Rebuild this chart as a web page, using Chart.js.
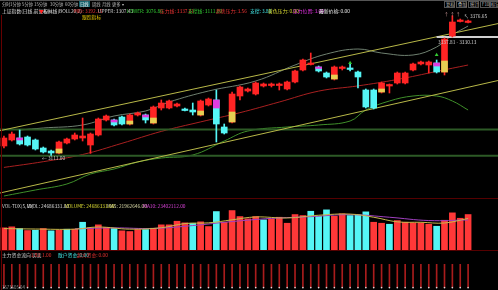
<!DOCTYPE html>
<html lang="zh-CN">
<head>
<meta charset="UTF-8">
<title>上证指数 日线</title>
<style>
  html, body { margin: 0; padding: 0; background: #000; }
  body { width: 498px; height: 290px; position: relative; overflow: hidden;
         font-family: "Noto Sans CJK SC", "Noto Sans", sans-serif; }
  canvas { position: absolute; left: 0; }
  .t { position: absolute; font-size: 16px; line-height: 16px; white-space: nowrap; color: #bbb;
       transform: scale(0.3); transform-origin: 0 0; }
  .s { transform: scale(0.27); }
  .hl { position: absolute; }
  .btn { position: absolute; top: 1px; width: 9px; height: 5px; border: 1px solid #555; }
</style>
</head>
<body>
<canvas id="mainCanvas" width="498" height="183" style="top:15px"></canvas>
<canvas id="volCanvas" width="498" height="50" style="top:200px"></canvas>
<canvas id="flowCanvas" width="498" height="26" style="top:264px"></canvas>

<!-- frame lines -->
<div class="hl" style="left:0;top:0;width:498px;height:1px;background:#555"></div>
<div class="hl" style="left:1px;top:15px;width:1px;height:275px;background:#600"></div>
<div class="hl" style="left:0;top:198px;width:498px;height:1px;background:#500"></div>
<div class="hl" style="left:0;top:250px;width:498px;height:1px;background:#500"></div>

<!-- period tabs -->
<div class="t s" style="left:2px;top:2px">分时</div>
<div class="t s" style="left:10px;top:2px">1分钟</div>
<div class="t s" style="left:22px;top:2px">5分钟</div>
<div class="t s" style="left:34px;top:2px">15分钟</div>
<div class="t s" style="left:50px;top:2px">30分钟</div>
<div class="t s" style="left:65px;top:2px">60分钟</div>
<div class="hl" style="left:79px;top:1px;width:11px;height:6px;background:#15606a"></div>
<div class="t s" style="left:80px;top:2px;color:#fff">日线</div>
<div class="t s" style="left:92px;top:2px">周线</div>
<div class="t s" style="left:102px;top:2px">月线</div>
<div class="t s" style="left:112px;top:2px">更多 ▾</div>

<div class="btn" style="left:444px"></div>
<div class="btn" style="left:456px"></div>
<div class="btn" style="left:468px"></div>
<div class="btn" style="left:480px"></div>
<div class="btn" style="left:489px"></div>
<div class="t s" style="left:446px;top:2px">复权</div>
<div class="t s" style="left:458px;top:2px">叠加</div>
<div class="t s" style="left:470px;top:2px">统计</div>
<div class="t s" style="left:482px;top:2px">F10</div>
<div class="t s" style="left:491px;top:2px">标记</div>

<!-- indicator legend -->
<div class="t" style="left:2px;top:8px;color:#ddd">上证指数(日线,前复权)</div>
<div class="t" style="left:39px;top:8px;color:#f22">▼</div>
<div class="t" style="left:43px;top:8px;color:#ddd">布林线(BOLL20,2)</div>
<div class="t" style="left:74px;top:8px;color:#e33">MID: 3192.15</div>
<div class="t" style="left:98px;top:8px;color:#ccc">UPPER: 3307.43</div>
<div class="t" style="left:127px;top:8px;color:#3c3">LOWER: 3076.86</div>
<div class="t" style="left:160px;top:8px;color:#e33">压力线: 3337.81</div>
<div class="t" style="left:188px;top:8px;color:#3c3">支撑线: 3111.00</div>
<div class="t" style="left:216px;top:8px;color:#e33">趋势压力: 3.56</div>
<div class="t" style="left:250px;top:8px;color:#4ee">支撑: 3.80</div>
<div class="t" style="left:268px;top:8px;color:#dd3">黄色压力: 0.00</div>
<div class="t" style="left:293px;top:8px;color:#e3e">压力位置: 3.00</div>
<div class="t" style="left:319px;top:8px;color:#eee">最新价格: 0.00</div>
<div class="t" style="left:82px;top:14px;color:#e8c800">跟踪指标</div>

<!-- price notes -->
<div class="t" style="left:444px;top:11px;color:#c99">↑ ↑ ↑</div>
<div class="t" style="left:464px;top:13px;color:#ccc">↖ 3376.65</div>
<div class="t" style="left:438px;top:39px;color:#ccc">3337.81 - 3330.13</div>
<div class="t" style="left:42px;top:155px;color:#ccc">← 3111.00</div>

<!-- volume legend -->
<div class="t" style="left:2px;top:203px;color:#ccc">VOL-TDX(5,10)</div>
<div class="t" style="left:27px;top:203px;color:#ddd">VVOL: 24686331.00</div>
<div class="t" style="left:65px;top:203px;color:#dd3">VOLUME: 24686331.00</div>
<div class="t" style="left:107px;top:203px;color:#dda">MA5: 21962646.00</div>
<div class="t" style="left:143px;top:203px;color:#d4d">MA10: 23402112.00</div>

<!-- money flow legend -->
<div class="t" style="left:2px;top:252px;color:#ccc">主力资金流向 买卖</div>
<div class="t" style="left:29px;top:252px;color:#e33">-1.93</div>
<div class="t" style="left:42px;top:252px;color:#e33">1.00</div>
<div class="t" style="left:58px;top:252px;color:#4ee">散户资金: 0.00</div>
<div class="t" style="left:77px;top:252px;color:#e33">超大资金: 0.00</div>
<div class="t s" style="left:2px;top:285px;color:#999">1571505.04</div>

<script src="https://cdn.jsdelivr.net/npm/chart.js"></script>
<script>
// daily candles, slot 0..59
const opens = [3129.1, 3140.5, 3144.3, 3146.2, 3140.5, 3125.3, 3119.6, 3115.8, 3134.8, 3142.4,
               3144.3, 3131.0, 3150.0, 3178.5, 3178.5, 3184.2, 3170.9, 3188.0, 3188.0, 3172.8,
               3201.3, 3201.3, 3205.1, 3199.4, 3197.5, 3188.0, 3207.0, 3216.5, 3165.2, 3174.7,
               3224.1, 3233.6, 3227.9, 3243.1, 3244.0, 3244.0, 3237.4, 3250.7, 3273.5, 3284.0,
               3279.2, 3267.8, 3256.4, 3276.4, 3277.3, 3269.7, 3235.5, 3235.5, 3231.7, 3243.1,
               3248.8, 3248.8, 3273.5, 3285.0, 3283.0, 3286.8, 3269.7, 3338.1, 3365.6, 3363.8];
const highs = [3148.1, 3155.7, 3159.5, 3148.1, 3142.4, 3127.2, 3121.5, 3138.6, 3144.3, 3153.8,
               3182.3, 3153.8, 3182.3, 3188.0, 3180.4, 3186.1, 3189.9, 3193.7, 3189.9, 3205.1,
               3216.5, 3216.5, 3210.8, 3201.3, 3210.8, 3216.5, 3220.3, 3235.5, 3170.9, 3231.7,
               3243.1, 3239.3, 3250.7, 3248.8, 3248.8, 3248.8, 3252.6, 3273.5, 3294.4, 3305.8,
               3281.1, 3269.7, 3281.1, 3281.1, 3284.9, 3271.6, 3237.4, 3237.4, 3250.7, 3246.9,
               3269.7, 3269.7, 3286.8, 3290.6, 3290.6, 3292.5, 3334.3, 3376.65, 3370.4, 3368.5];
const lows = [3125.3, 3138.6, 3131.0, 3129.1, 3121.5, 3115.8, 3111.0, 3113.9, 3132.9, 3140.5,
              3138.6, 3115.0, 3148.1, 3176.6, 3167.1, 3169.0, 3169.0, 3186.1, 3172.8, 3170.9,
              3197.5, 3199.4, 3203.2, 3195.6, 3188.0, 3186.1, 3205.1, 3136.7, 3151.9, 3172.8,
              3216.5, 3231.7, 3226.0, 3241.2, 3241.2, 3235.5, 3235.5, 3248.8, 3271.6, 3283.0,
              3269.7, 3258.3, 3254.5, 3273.5, 3271.6, 3239.3, 3201.3, 3199.4, 3229.8, 3229.8,
              3246.9, 3246.9, 3271.6, 3283.0, 3267.8, 3267.8, 3264.0, 3336.2, 3364.7, 3362.8];
const closes = [3144.3, 3151.9, 3132.9, 3131.0, 3123.4, 3117.7, 3115.8, 3136.7, 3142.4, 3150.0,
                3148.1, 3151.9, 3180.4, 3186.1, 3169.0, 3170.9, 3188.0, 3191.8, 3178.5, 3203.2,
                3210.8, 3214.6, 3208.9, 3196.5, 3193.7, 3214.6, 3218.4, 3170.9, 3153.8, 3227.9,
                3241.2, 3237.4, 3248.8, 3246.9, 3246.9, 3246.9, 3250.7, 3271.6, 3292.5, 3286.8,
                3271.6, 3260.2, 3279.2, 3279.2, 3274.5, 3260.2, 3203.2, 3201.3, 3248.8, 3245.0,
                3267.8, 3267.8, 3284.9, 3288.7, 3288.7, 3269.7, 3332.4, 3364.7, 3368.5, 3366.6];

// coloured part of some bodies (yellow foot on up bars, magenta head on down bars)
const accentIdx = [2, 7, 14, 16, 18, 19, 25, 27, 29, 40, 42, 48, 55, 56];
const accentLo = [3140.5, 3115.8, 3174.7, 3170.9, 3184.2, 3172.8, 3188.0, 3201.3, 3174.7, 3276.4, 3256.4, 3231.7, 3281.1, 3269.7];
const accentHi = [3144.3, 3123.4, 3178.5, 3176.6, 3188.0, 3182.3, 3195.6, 3216.5, 3193.7, 3279.2, 3264.0, 3237.4, 3286.8, 3290.6];

// BOLL lines read at some slots
const midX = [0, 5, 10, 15, 20, 25, 30, 35, 40, 45, 50, 55, 59];
const midY = [3088.4, 3099.3, 3112.9, 3134.2, 3156.8, 3174.9, 3192.4, 3212.7, 3233.4, 3243.3, 3255.5, 3270.8, 3283.0];
const upX = [2, 5, 10, 14, 18, 21, 26, 32, 37, 41, 45, 48, 52, 55, 57, 59];
const upY = [3159.5, 3163.3, 3169.0, 3186.1, 3195.6, 3212.7, 3233.6, 3252.6, 3283.0, 3303.9, 3313.4, 3305.8, 3302.0, 3317.2, 3340.0, 3357.1];
const lowX = [0, 4, 8, 11, 14, 17, 20, 24, 28, 31, 36, 40, 44, 46, 49, 52, 55, 57, 59];
const lowY = [3034.1, 3045.5, 3056.9, 3075.9, 3085.4, 3098.7, 3106.3, 3112.0, 3138.6, 3157.6, 3165.2, 3169.0, 3176.6, 3197.5, 3214.6, 3224.1, 3224.1, 3214.6, 3197.5];

// channel and level lines
const edgeX = [-0.5, 62.8];
const chanTopY = [3158.2, 3361.7];
const chanBotY = [3039.8, 3253.5];
const resistY = [3160.5, 3160.5];
const supportY = [3110.5, 3110.5];
const markX = [55.0, 62.8];
const markY = [3336.2, 3336.2];
const signalX = [44, 55];
const signalY = [3286.8, 3302.0];

// volume
const volumes = [15430000, 16120000, 14940000, 13550000, 13760000, 14940000, 13340000, 13760000, 14460000, 14460000,
                 19320000, 15430000, 17510000, 15640000, 14940000, 13340000, 12860000, 14250000, 14250000, 15150000,
                 17510000, 17510000, 20020000, 18900000, 18630000, 19600000, 16330000, 26760000, 19320000, 27450000,
                 23280000, 21680000, 23280000, 20990000, 21680000, 22800000, 18630000, 24670000, 23980000, 26970000,
                 23490000, 27940000, 23490000, 25160000, 23980000, 24460000, 26550000, 19320000, 18630000, 17930000,
                 20500000, 19320000, 18900000, 18900000, 17930000, 16540000, 20710000, 25850000, 22100000, 24686331];
const volUp = [1, 1, 0, 1, 0, 1, 0, 1, 0, 1,
               0, 1, 1, 1, 0, 1, 1, 1, 0, 1,
               1, 1, 1, 1, 0, 1, 1, 0, 1, 1,
               1, 1, 1, 0, 1, 1, 1, 1, 1, 0,
               0, 0, 1, 1, 0, 0, 0, 1, 1, 0,
               1, 1, 1, 1, 1, 0, 1, 1, 1, 1];
const ma5X = [0, 4, 9, 12, 16, 20, 23, 26, 29, 32, 36, 40, 44, 47, 50, 53, 56, 59];
const ma5Y = [14900000, 14600000, 14500000, 16000000, 14500000, 15500000, 18400000, 18900000, 21000000, 23000000,
              22300000, 24200000, 25000000, 22800000, 19600000, 19300000, 18800000, 21962646];
const ma10X = [9, 14, 19, 24, 29, 34, 39, 44, 49, 54, 59];
const ma10Y = [14700000, 15400000, 15000000, 17000000, 19800000, 22000000, 23200000, 24600000, 22800000, 20500000, 20900000];

// money flow ticks
const flowTicks = [1, 1, 1, 1, 1, 1, 1, 1, 1, 1, 1, 1, 1, 1, 1, 1, 1, 1, 1, 1,
                   1, 1, 1, 1, 1, 1, 1, 1, 1, 1, 1, 1, 1, 1, 1, 1, 1, 1, 1, 1,
                   1, 1, 1, 1, 1, 1, 1, 1, 1, 1, 1, 1, 1, 1, 1, 1, 1, 1, 1, 1];

const RED = '#ff2424';
const CYAN = '#55f6f6';
const pts = (xs, ys) => xs.map((x, k) => ({ x: x, y: ys[k] }));
const isUp = opens.map((o, i) => closes[i] >= o);

function lineSet(xs, ys, color, width, tension) {
    return { type: 'line', data: pts(xs, ys), borderColor: color, borderWidth: width,
             pointRadius: 0, pointHoverRadius: 0, tension: tension, fill: false };
}

const xScale = { type: 'linear', min: -0.5, max: 62.8, display: false, offset: false };
const common = {
    responsive: false, animation: false, devicePixelRatio: 1,
    layout: { padding: 0, autoPadding: false },
    plugins: { legend: { display: false }, tooltip: { enabled: false } },
    events: []
};

new Chart(document.getElementById('mainCanvas'), {
    type: 'bar',
    data: {
        datasets: [
            { type: 'line', data: pts(signalX, signalY), showLine: false, pointStyle: 'triangle', pointRadius: 2.2,
              pointBackgroundColor: '#3c3', pointBorderWidth: 0 },
            { data: accentIdx.map((i, k) => ({ x: i, y: [accentLo[k], accentHi[k]] })),
              backgroundColor: accentIdx.map(i => isUp[i] ? '#e6cf52' : '#e03ce0'),
              barThickness: 6, grouped: false },
            { data: opens.map((o, i) => ({ x: i, y: [o, closes[i]] })),
              backgroundColor: isUp.map(u => u ? RED : CYAN),
              barThickness: 6, minBarLength: 1.5, grouped: false },
            { data: highs.map((h, i) => ({ x: i, y: [lows[i], h] })),
              backgroundColor: isUp.map(u => u ? RED : CYAN),
              barThickness: 1, grouped: false },
            lineSet(markX, markY, '#d0d0d0', 2, 0),
            lineSet(edgeX, chanTopY, '#b8b848', 1, 0),
            lineSet(edgeX, chanBotY, '#b8b848', 1, 0),
            lineSet(edgeX, resistY, '#2d5a26', 2, 0),
            lineSet(edgeX, supportY, '#2d5a26', 2, 0),
            lineSet(midX, midY, '#a82020', 1, 0.4),
            lineSet(upX, upY, '#6f8070', 1, 0.4),
            lineSet(lowX, lowY, '#3f8f2a', 1, 0.4)
        ]
    },
    options: Object.assign({}, common, {
        scales: { x: xScale, y: { display: false, min: 3030.3, max: 3378 } }
    })
});

new Chart(document.getElementById('volCanvas'), {
    type: 'bar',
    data: {
        datasets: [
            lineSet(ma5X, ma5Y, '#c8b84a', 1, 0.4),
            lineSet(ma10X, ma10Y, '#a040c0', 1, 0.4),
            { data: volumes.map((v, i) => ({ x: i, y: v })),
              backgroundColor: volUp.map(u => u ? '#ff3838' : '#55f6f6'),
              barThickness: 6, grouped: false }
        ]
    },
    options: Object.assign({}, common, {
        scales: { x: xScale, y: { display: false, min: 0, max: 34800000 } }
    })
});

new Chart(document.getElementById('flowCanvas'), {
    type: 'bar',
    data: {
        datasets: [
            { type: 'line', data: flowTicks.map((_, i) => ({ x: i, y: 0 })), showLine: false, pointRadius: 0.8,
              pointBackgroundColor: '#ddd', pointBorderWidth: 0 },
            { data: flowTicks.map((v, i) => ({ x: i, y: v })), backgroundColor: '#a81c1c',
              barThickness: 1, grouped: false }
        ]
    },
    options: Object.assign({}, common, {
        scales: { x: xScale, y: { display: false, min: -0.1, max: 1.0 } }
    })
});
</script>
</body>
</html>
